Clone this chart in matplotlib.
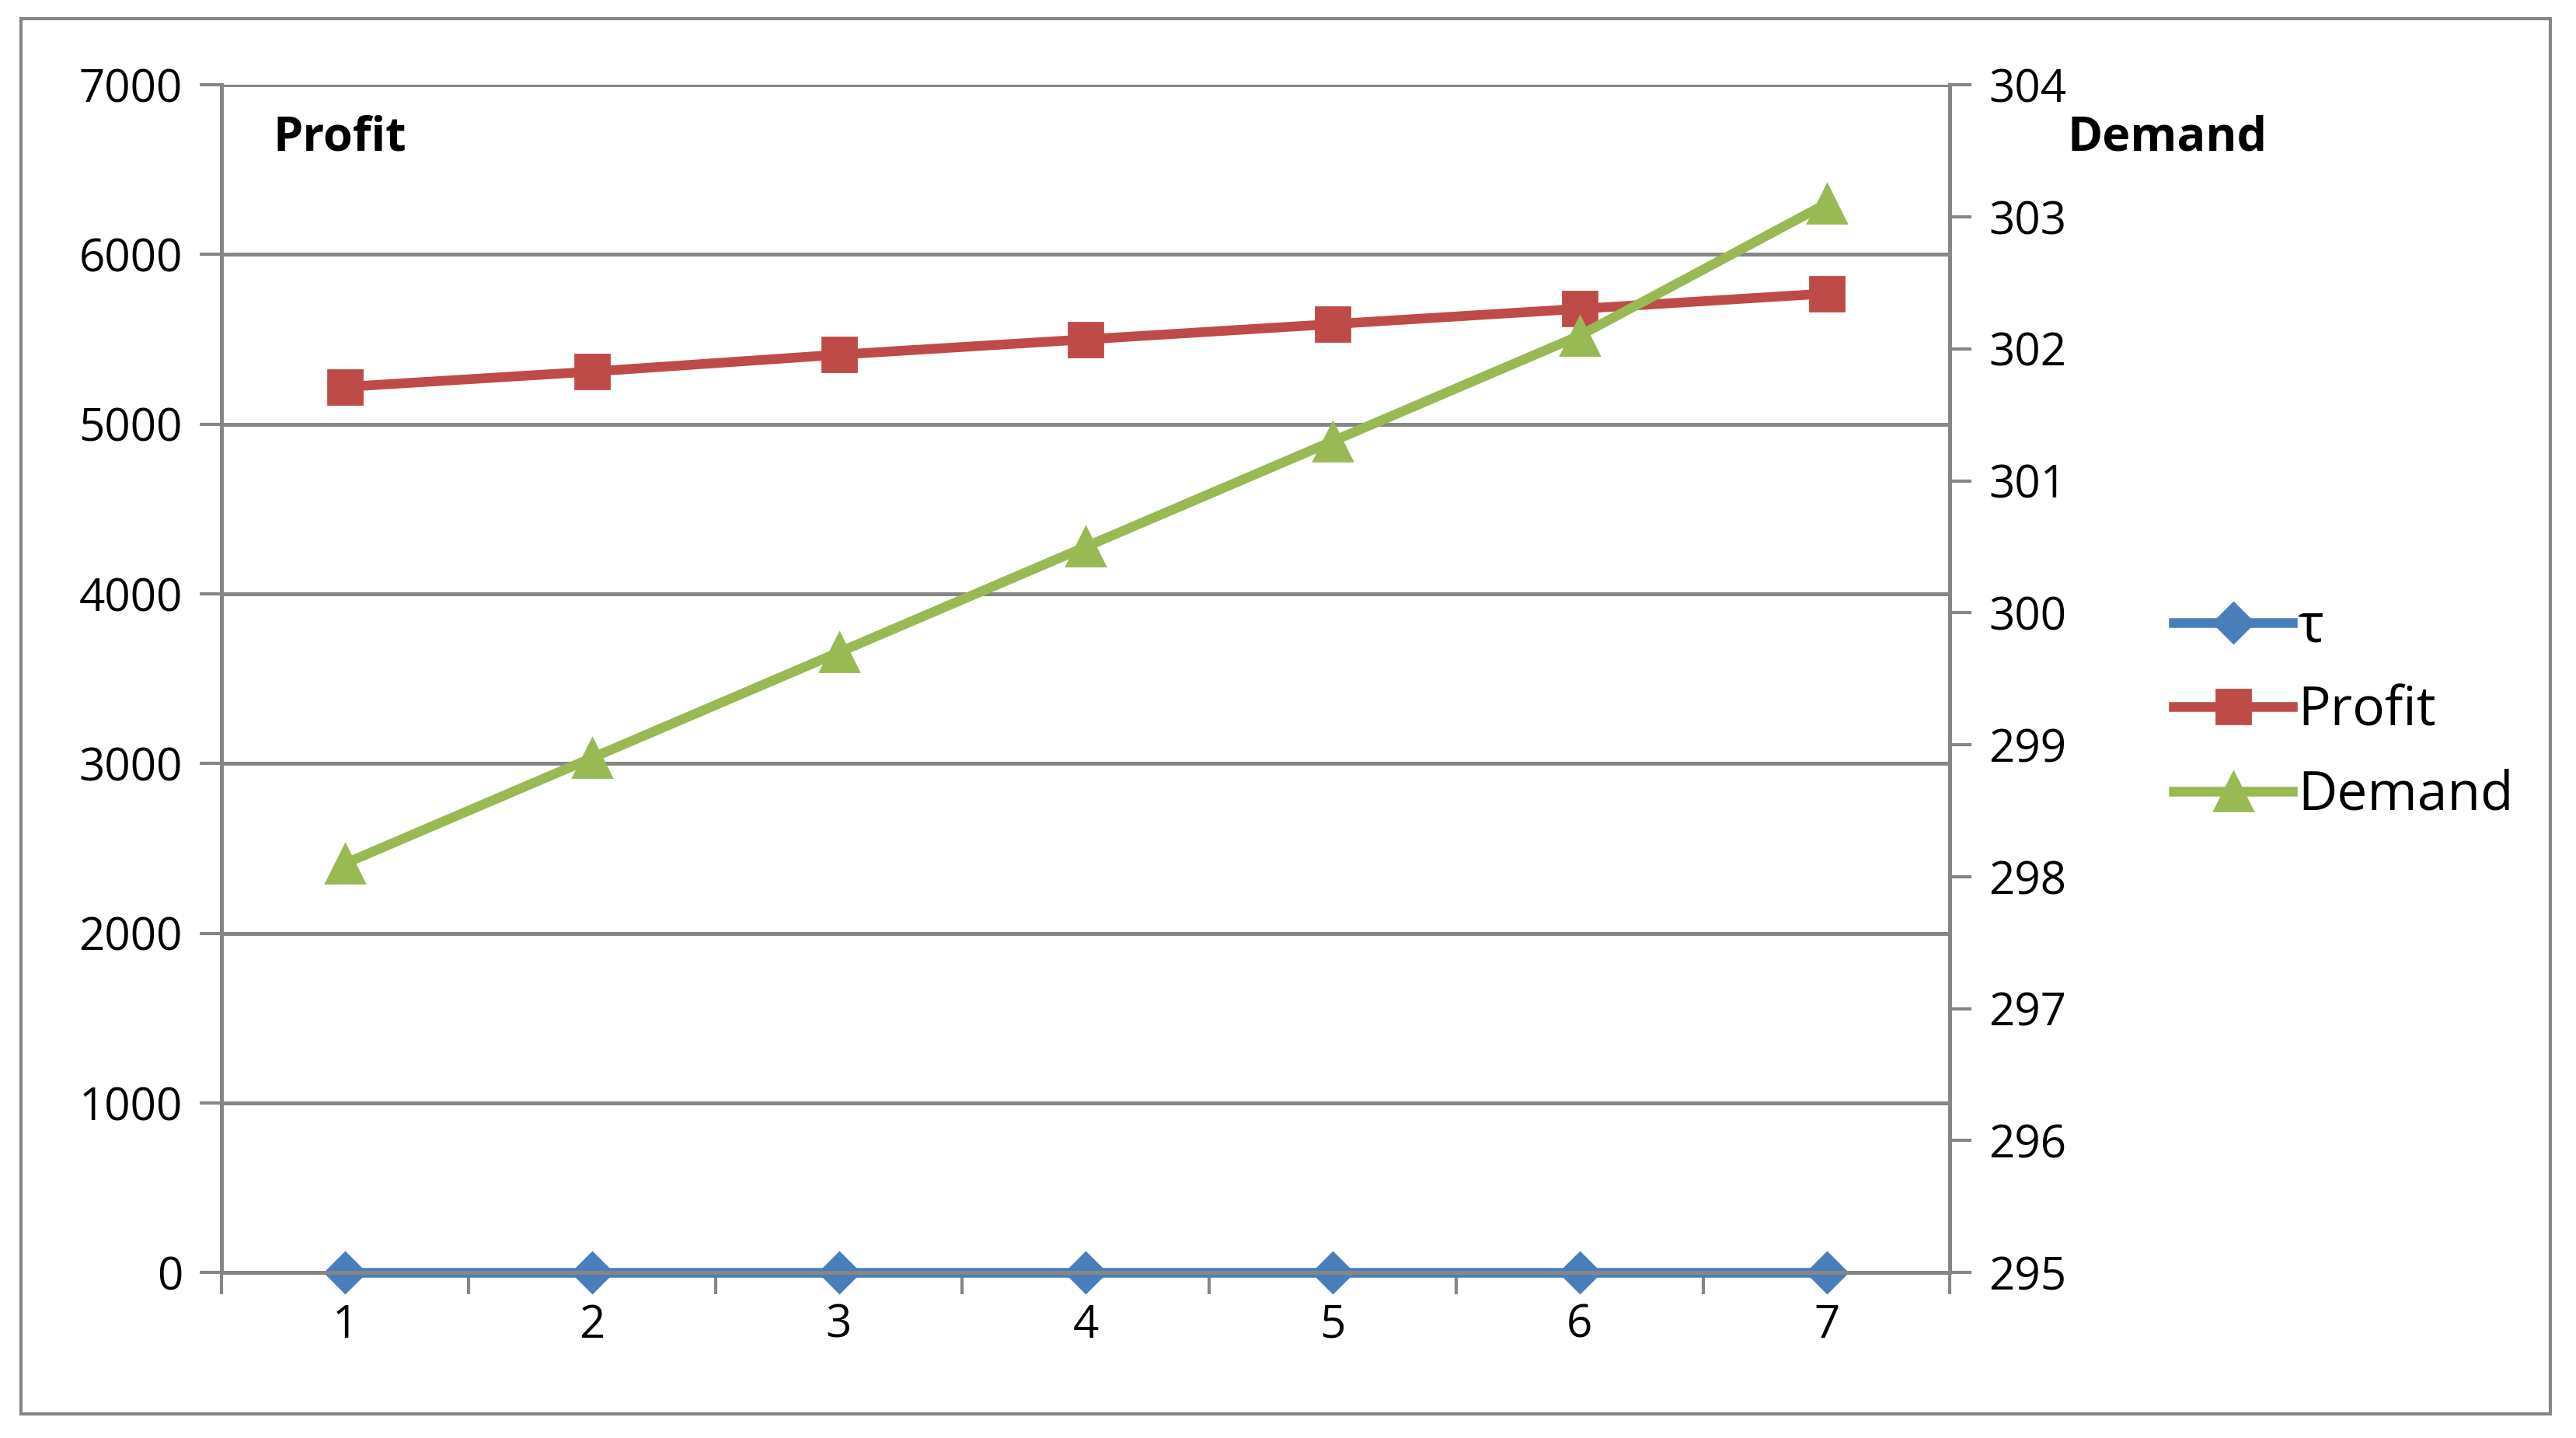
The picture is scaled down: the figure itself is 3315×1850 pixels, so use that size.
import matplotlib.pyplot as plt
from matplotlib.patches import Rectangle

plt.rcParams['font.family'] = ['Open Sans', 'DejaVu Sans']

periods = [1, 2, 3, 4, 5, 6, 7]
tau = [0, 0, 0, 0, 0, 0, 0]
profit = [5220, 5310, 5410, 5500, 5590, 5680, 5770]
demand = [298.1, 298.9, 299.7, 300.5, 301.3, 302.1, 303.1]

BLUE = "#4a7ebb"
RED = "#be4b48"
GREEN = "#98b954"
GRAY = "#868686"

fig = plt.figure(figsize=(16.575, 9.25), dpi=200)
fig.patches.append(Rectangle((0.008, 0.017), 0.982, 0.97, transform=fig.transFigure,
                             fill=False, edgecolor=GRAY, linewidth=1.5))
ax = fig.add_axes([0.086, 0.115, 0.671, 0.826])
ax2 = ax.twinx()

lt, = ax.plot(periods, tau, color=BLUE, lw=4.5, marker="D", ms=13, label="τ",
              zorder=3, clip_on=False)
lp, = ax.plot(periods, profit, color=RED, lw=4.5, marker="s", ms=16, label="Profit", zorder=3)
ld, = ax2.plot(periods, demand, color=GREEN, lw=4.5, marker="^", ms=18, label="Demand")

ax.set_xlim(0.5, 7.5)
ax.set_ylim(0, 7000)
ax.set_yticks(range(0, 7001, 1000))
ax2.set_ylim(295, 304)
ax2.set_yticks(range(295, 305))
ax.yaxis.grid(True, color=GRAY, lw=1.8)
ax.set_axisbelow(True)

ax.set_xticks(periods)
ax.set_xticks([p + 0.5 for p in [0] + periods], minor=True)
ax.tick_params(axis="x", which="major", length=0, pad=14, labelsize=21)
ax.tick_params(axis="x", which="minor", length=10, color=GRAY, width=1.5)
ax.tick_params(axis="y", length=10, color=GRAY, width=1.5, labelsize=21, pad=8)
ax2.tick_params(axis="y", length=10, color=GRAY, width=1.5, labelsize=21, pad=8)

for a in (ax, ax2):
    a.spines["top"].set_visible(False)
    for s in ("left", "right", "bottom"):
        a.spines[s].set_color(GRAY)
        a.spines[s].set_linewidth(1.8)

ax.text(0.03, 0.975, "Profit", transform=ax.transAxes, fontsize=22,
        fontweight="bold", va="top")
ax2.text(1.068, 0.975, "Demand", transform=ax.transAxes, fontsize=22,
         fontweight="bold", va="top")

fig.legend(handles=[lt, lp, ld], loc="center left", bbox_to_anchor=(0.825, 0.505),
           frameon=False, fontsize=25, handlelength=2.2, handletextpad=0.1,
           labelspacing=0.55)

fig.savefig("out.png", dpi=200)
